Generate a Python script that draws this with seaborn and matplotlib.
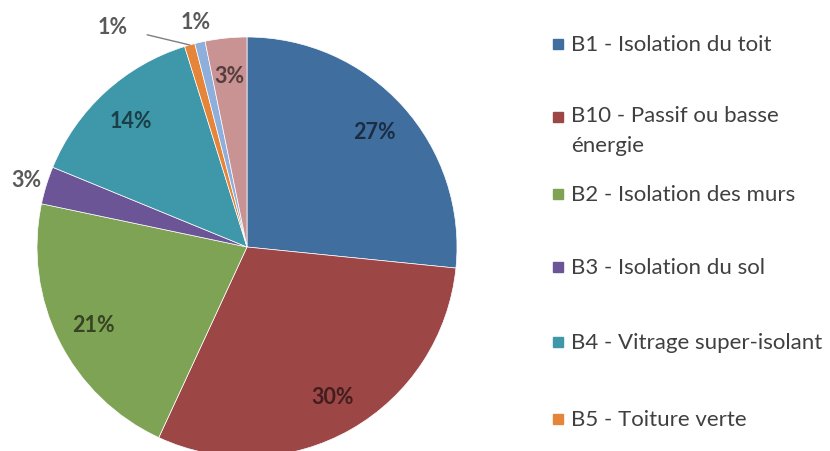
import numpy as np
import seaborn as sns
import matplotlib
matplotlib.use("Agg")
from matplotlib import pyplot as plt
from matplotlib import colors as mcolors

# data (percent of answers)
labels = ["B1 - Isolation du toit", "B10 - Passif ou basse\nénergie",
          "B2 - Isolation des murs", "B3 - Isolation du sol",
          "B4 - Vitrage super-isolant", "B5 - Toiture verte", "B6", "B7"]
values = [26.6, 30.3, 21.4, 2.9, 14.0, 0.8, 0.8, 3.2]
palette = ["#3f6e9f", "#9c4645", "#7ea354", "#6c5596", "#3f97aa",
           "#e5853a", "#8eaedb", "#c99293"]
n_legend = 6  # the legend in the picture stops after B5

sns.set_theme(style="white")
plt.rcParams["font.family"] = ["Lato", "DejaVu Sans"]

fig = plt.figure(figsize=(8.3, 4.52), dpi=100)
# pie centre at (247, 248) px, radius 210 px
ax = fig.add_axes([37 / 830, (452 - 248 - 210) / 452, 420 / 830, 420 / 452])
wedges, _ = ax.pie(values, colors=palette, startangle=90, counterclock=False,
                   radius=1, wedgeprops=dict(edgecolor="white", linewidth=0.5))
ax.set_xlim(-1, 1)
ax.set_ylim(-1, 1)
ax.set_aspect("equal")
ax.axis("off")


def darker(c, f=0.42):
    r, g, b = mcolors.to_rgb(c)
    return (r * f, g * f, b * f)


gray = "#595959"
pct_size = 15.5
for i, (w, v) in enumerate(zip(wedges, values)):
    mid = np.deg2rad((w.theta1 + w.theta2) / 2)
    txt = f"{v:.0f}%"
    if v >= 3 and i != 3:
        d = 0.82
        ax.text(d * np.cos(mid), d * np.sin(mid), txt, ha="center", va="center",
                fontsize=pct_size, fontweight="bold", color=darker(palette[i]))
    elif i == 5:
        # leader line for the orange slice
        ax.annotate(txt, xy=(np.cos(mid), np.sin(mid)), xytext=(-0.64, 1.05),
                    ha="center", va="center", fontsize=pct_size, fontweight="bold",
                    color=gray, annotation_clip=False,
                    arrowprops=dict(arrowstyle="-", color="#7f7f7f", lw=1,
                                    shrinkA=12, shrinkB=0))
    else:
        d = 1.1
        ax.text(d * np.cos(mid), d * np.sin(mid), txt, ha="center", va="center",
                fontsize=pct_size, fontweight="bold", color=gray, clip_on=False)

# legend, drawn by hand to keep Excel-like spacing
legend_y = [45, 118, 195, 268, 343, 420]
for lab, col, y in zip(labels[:n_legend], palette[:n_legend], legend_y):
    fig.patches.append(plt.Rectangle((553 / 830, 1 - (y + 5) / 452), 10 / 830, 10 / 452,
                                     transform=fig.transFigure, color=col))
    if "\n" in lab:
        fig.text(571 / 830, 1 - (y - 12) / 452, lab, ha="left", va="top",
                 fontsize=16, color="#404040", linespacing=1.65)
    else:
        fig.text(571 / 830, 1 - y / 452, lab, ha="left", va="center",
                 fontsize=16, color="#404040")

fig.savefig("out.png", dpi=100)
